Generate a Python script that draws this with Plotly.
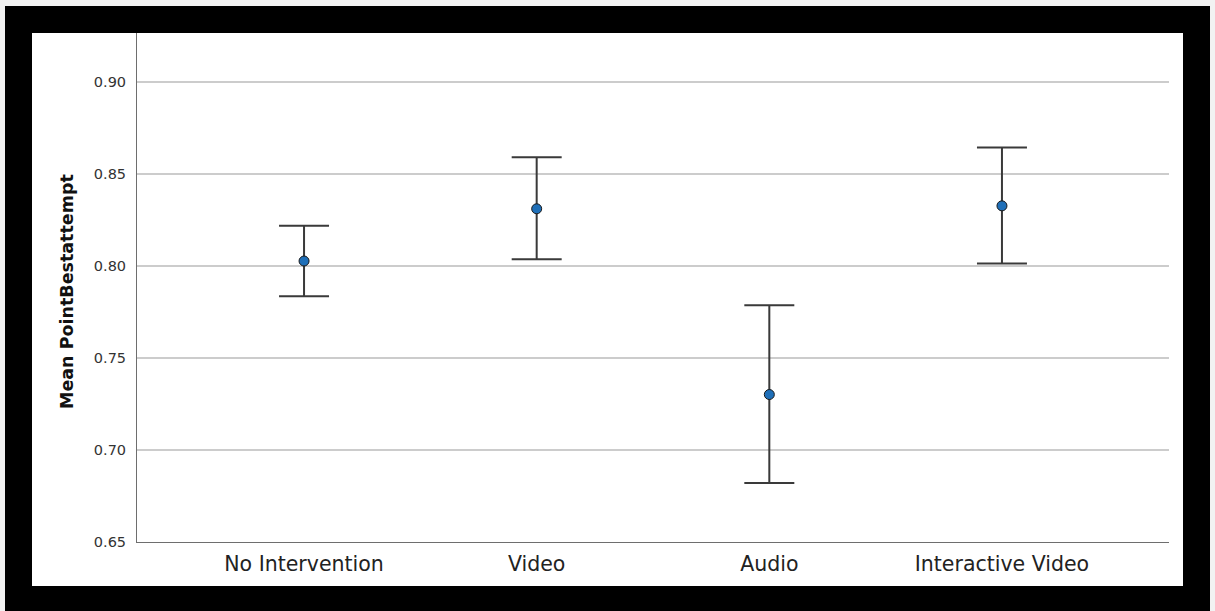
import plotly.graph_objects as go

# Group means of PointBestattempt with 95% confidence interval bounds
groups = ["No Intervention", "Video", "Audio", "Interactive Video"]
means = [0.8028, 0.8312, 0.7302, 0.8328]
ci_upper = [0.8220, 0.8592, 0.7788, 0.8646]
ci_lower = [0.7837, 0.8038, 0.6821, 0.8015]

y_ticks = [0.65, 0.70, 0.75, 0.80, 0.85, 0.90]
y_tick_text = ["0.65", "0.70", "0.75", "0.80", "0.85", "0.90"]

err_plus = [u - m for u, m in zip(ci_upper, means)]
err_minus = [m - l for m, l in zip(means, ci_lower)]

W, H = 1215, 611
ML, MR, MT, MB = 137, 46, 33, 69
PW, PH = W - ML - MR, H - MT - MB


def px_x(p):
    return (p - ML) / PW


def px_y(p):
    return (H - MB - p) / PH


fig = go.Figure()
fig.add_trace(go.Scatter(
    x=list(range(len(groups))),
    y=means,
    mode="markers",
    marker=dict(size=10, color="#1f6fb8", line=dict(color="#1a1a1a", width=1)),
    error_y=dict(type="data", symmetric=False, array=err_plus, arrayminus=err_minus,
                 color="#3a3a3a", thickness=2, width=25),
    showlegend=False,
    hoverinfo="skip",
))

# Frame around the chart: thin light edge, black border, white panel
shapes = [
    dict(type="rect", xref="paper", yref="paper",
         x0=px_x(5), x1=px_x(1210), y0=px_y(611), y1=px_y(6),
         fillcolor="#000000", line=dict(width=0), layer="below"),
    dict(type="rect", xref="paper", yref="paper",
         x0=px_x(32), x1=px_x(1183), y0=px_y(586), y1=px_y(33),
         fillcolor="#ffffff", line=dict(width=0), layer="below"),
]

fig.update_layout(
    width=W, height=H,
    margin=dict(l=ML, r=MR, t=MT, b=MB, pad=0),
    paper_bgcolor="#f2f2f2",
    plot_bgcolor="#ffffff",
    shapes=shapes,
    font=dict(family="DejaVu Sans", color="#333333"),
    xaxis=dict(
        range=[-0.718, 3.718],
        tickmode="array", tickvals=list(range(len(groups))), ticktext=groups,
        tickfont=dict(size=20.5, color="#222222"),
        showgrid=False, zeroline=False,
        showline=True, linecolor="#6e6e6e", linewidth=1,
        ticks="", ticklabelstandoff=3,
    ),
    yaxis=dict(
        range=[0.65, 0.9268],
        tickmode="array", tickvals=y_ticks, ticktext=y_tick_text,
        tickfont=dict(size=14.5, color="#333333"),
        showgrid=True, gridcolor="#cccccc", gridwidth=1.5,
        zeroline=False,
        showline=True, linecolor="#6e6e6e", linewidth=1,
        ticks="", ticklabelstandoff=7,
    ),
    annotations=[dict(
        text="<b>Mean PointBestattempt</b>",
        xref="paper", yref="paper",
        x=px_x(67), y=px_y(292),
        xanchor="center", yanchor="middle",
        textangle=-90, showarrow=False,
        font=dict(size=17.5, color="#111111", family="DejaVu Sans"),
    )],
)

fig.write_html("out.html")
